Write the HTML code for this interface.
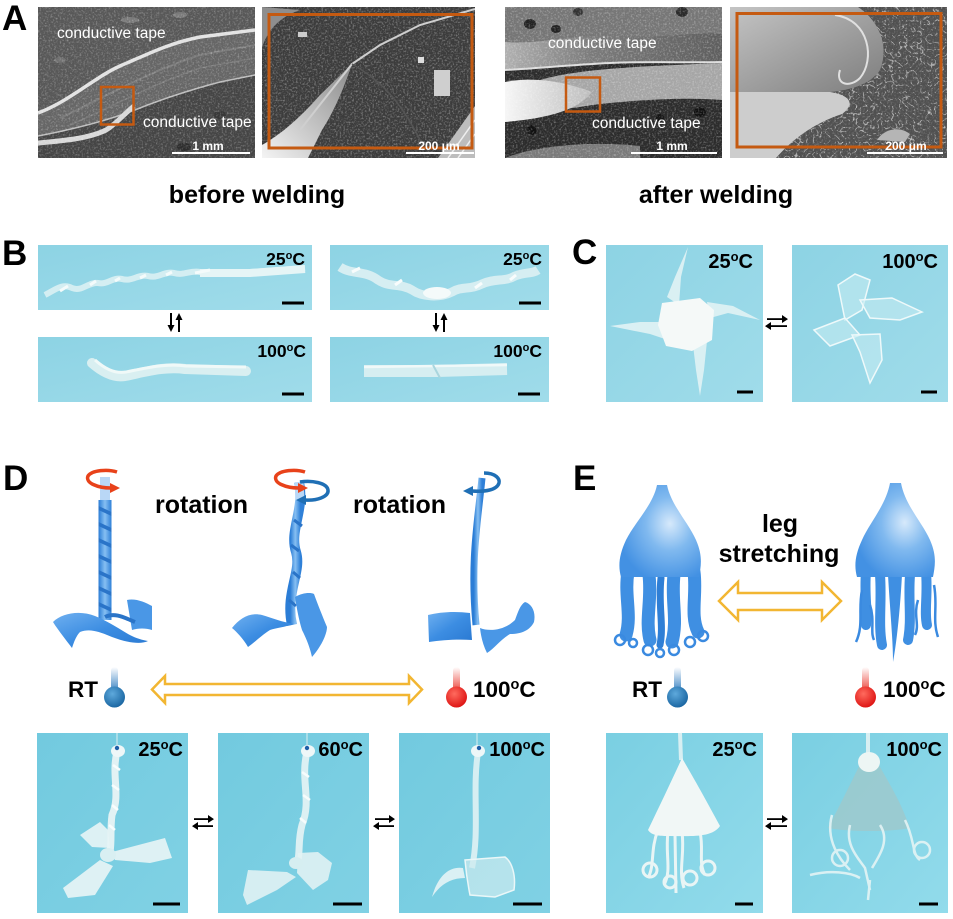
<!DOCTYPE html>
<html><head><meta charset="utf-8">
<style>
html,body{margin:0;padding:0;background:#fff;}
svg{display:block;}
text{font-family:"Liberation Sans",Arial,sans-serif;}
</style></head>
<body>
<svg width="953" height="919" viewBox="0 0 953 919" xmlns="http://www.w3.org/2000/svg">
<defs>
<clipPath id="c1"><rect x="38" y="7" width="217" height="151"/></clipPath>
<clipPath id="c2"><rect x="262" y="7" width="213" height="151"/></clipPath>
<clipPath id="c3"><rect x="505" y="7" width="217" height="151"/></clipPath>
<clipPath id="c4"><rect x="730" y="7" width="217" height="151"/></clipPath>
<filter id="nz" x="0" y="0" width="1" height="1"><feTurbulence type="fractalNoise" baseFrequency="0.55" numOctaves="2" seed="4"/><feColorMatrix type="matrix" values="0 0 0 0 1 0 0 0 0 1 0 0 0 0 1 1.8 0 0 0 -0.85"/></filter>
<filter id="net" x="0" y="0" width="1" height="1"><feTurbulence type="turbulence" baseFrequency="0.14" numOctaves="2" seed="7"/><feColorMatrix type="matrix" values="0 0 0 0 1 0 0 0 0 1 0 0 0 0 1 -8 0 0 0 1.0"/></filter>
<linearGradient id="gw" x1="0" y1="1" x2="1" y2="0"><stop offset="0" stop-color="#f4f4f4"/><stop offset="1" stop-color="#8a8a8a"/></linearGradient>
<linearGradient id="gTape" x1="0" y1="0" x2="1" y2="0"><stop offset="0" stop-color="#b0b0b0"/><stop offset="0.4" stop-color="#7a7a7a"/><stop offset="1" stop-color="#5e5e5e"/></linearGradient>
<linearGradient id="gLens" x1="0" y1="0" x2="1" y2="0"><stop offset="0" stop-color="#f6f6f6"/><stop offset="1" stop-color="#bdbdbd"/></linearGradient>
<linearGradient id="gSmooth" x1="0" y1="0" x2="1" y2="1"><stop offset="0" stop-color="#c4c4c4"/><stop offset="1" stop-color="#7d7d7d"/></linearGradient>
<linearGradient id="pB" x1="0" y1="0" x2="1" y2="1"><stop offset="0" stop-color="#8dd3e4"/><stop offset="1" stop-color="#a0dcea"/></linearGradient>
<linearGradient id="pD" x1="0" y1="0" x2="1" y2="1"><stop offset="0" stop-color="#72cadf"/><stop offset="1" stop-color="#80d1e4"/></linearGradient>
<linearGradient id="pE" x1="0" y1="0" x2="1" y2="1"><stop offset="0" stop-color="#7acfe2"/><stop offset="1" stop-color="#92dbeb"/></linearGradient>
<linearGradient id="hb" x1="0" y1="0" x2="1" y2="0"><stop offset="0" stop-color="#2b7dd6"/><stop offset="0.5" stop-color="#86bff2"/><stop offset="1" stop-color="#2f80d8"/></linearGradient>
<linearGradient id="hb2" x1="0" y1="0" x2="1" y2="1"><stop offset="0" stop-color="#6fb0f0"/><stop offset="0.5" stop-color="#3c8de2"/><stop offset="1" stop-color="#2a79d2"/></linearGradient>
<radialGradient id="jb" cx="0.62" cy="0.42" r="0.65"><stop offset="0" stop-color="#d6e9fb"/><stop offset="0.45" stop-color="#80b9ef"/><stop offset="1" stop-color="#4391e3"/></radialGradient>
<linearGradient id="tsb" x1="0" y1="0" x2="0" y2="1"><stop offset="0" stop-color="#ffffff"/><stop offset="1" stop-color="#3f86c4"/></linearGradient>
<linearGradient id="tsr" x1="0" y1="0" x2="0" y2="1"><stop offset="0" stop-color="#ffffff"/><stop offset="1" stop-color="#ec4a40"/></linearGradient>
<radialGradient id="tbb" cx="0.4" cy="0.35" r="0.7"><stop offset="0" stop-color="#5ea9dc"/><stop offset="1" stop-color="#17639f"/></radialGradient>
<radialGradient id="tbr" cx="0.4" cy="0.35" r="0.7"><stop offset="0" stop-color="#ff6b5e"/><stop offset="1" stop-color="#dc1010"/></radialGradient>
</defs>

<!-- ============ A ============ -->
<text x="2" y="30" font-size="35" font-weight="bold">A</text>

<!-- SEM1 -->
<g clip-path="url(#c1)">
<rect x="38" y="7" width="217" height="151" fill="#454545"/>
<path d="M38,7 H255 V30 L200,36 C170,42 150,52 120,65 C95,76 70,100 38,112 Z" fill="#585858"/>
<path d="M38,112 C70,100 95,76 120,65 C150,52 170,42 200,36 L255,30 V75 L220,82 C190,90 160,100 140,108 C115,118 80,128 38,136 Z" fill="#666"/>
<path d="M60,118 C100,100 140,75 200,55 L255,45" stroke="#7a7a7a" stroke-width="2" fill="none"/>
<path d="M70,125 C110,108 150,85 200,68 L255,58" stroke="#777" stroke-width="1.5" fill="none"/>
<path d="M38,113 C70,101 95,77 120,66 C150,53 170,43 200,37 L255,30" stroke="#e2e2e2" stroke-width="3.5" fill="none"/>
<path d="M38,136 C80,128 115,118 140,108 C160,100 190,90 220,82 L255,75" stroke="#bdbdbd" stroke-width="1.5" fill="none"/>
<path d="M38,143 C60,141 88,139 106,130 C116,124 124,114 134,106" stroke="#d8d8d8" stroke-width="5" fill="none"/>
<ellipse cx="130" cy="20" rx="9" ry="3" fill="#7a7a7a"/>
<ellipse cx="180" cy="15" rx="7" ry="3" fill="#7a7a7a"/>
<ellipse cx="60" cy="60" rx="6" ry="3" fill="#707070"/>
<ellipse cx="184" cy="147" rx="7" ry="4" fill="#2d2d2d"/>
<ellipse cx="220" cy="115" rx="6" ry="4" fill="#383838"/>
<rect x="38" y="7" width="217" height="151" filter="url(#nz)" opacity="0.45"/>
</g>
<rect x="101" y="87" width="32.5" height="37.5" fill="none" stroke="#c55a11" stroke-width="2.5"/>
<text x="57" y="38" font-size="15.5" fill="#fff">conductive tape</text>
<text x="143" y="127" font-size="15.5" fill="#fff">conductive tape</text>
<text x="208" y="150" font-size="12" font-weight="bold" fill="#fff" text-anchor="middle">1 mm</text>
<rect x="172" y="152" width="78" height="2" fill="#fff"/>

<!-- SEM2 -->
<g clip-path="url(#c2)">
<rect x="262" y="7" width="213" height="151" fill="#3c3c3c"/>
<rect x="262" y="7" width="213" height="151" filter="url(#nz)" opacity="0.55"/>
<path d="M262,158 L262,145 C280,135 300,118 320,95 L352,64 C345,85 335,110 322,130 L308,158 Z" fill="url(#gw)"/>
<path d="M300,130 L352,64 L380,45 L420,25 L475,9" stroke="#cfcfcf" stroke-width="2" fill="none"/>
<path d="M352,64 C380,80 400,100 420,140 L425,158" stroke="#555" stroke-width="1.5" fill="none"/>
<path d="M438,158 L475,106 V158 Z" fill="#bdbdbd"/>
<path d="M448,158 L475,120 M458,158 L475,134" stroke="#eee" stroke-width="1.5"/>
<path d="M262,48 C268,28 282,16 300,10 L262,7 Z" fill="#8e8e8e"/>
<rect x="418" y="57" width="6" height="6" fill="#ddd"/>
<rect x="434" y="70" width="16" height="26" fill="#cfcfcf"/>
<rect x="298" y="32" width="9" height="5" fill="#ccc"/>
</g>
<rect x="269" y="14.5" width="203" height="133.5" fill="none" stroke="#c55a11" stroke-width="3"/>
<text x="439" y="150" font-size="12" font-weight="bold" fill="#fff" text-anchor="middle">200 μm</text>
<rect x="406" y="152" width="68" height="2" fill="#fff"/>

<!-- SEM3 -->
<g clip-path="url(#c3)">
<rect x="505" y="7" width="217" height="151" fill="#2c2c2c"/>
<path d="M505,7 H722 V40 C690,45 600,44 560,50 L505,55 Z" fill="#767676"/>
<ellipse cx="530" cy="24" rx="6" ry="5" fill="#222"/>
<ellipse cx="556" cy="29" rx="5" ry="4" fill="#222"/>
<ellipse cx="578" cy="12" rx="5" ry="4" fill="#333"/>
<ellipse cx="682" cy="12" rx="6" ry="5" fill="#2a2a2a"/>
<path d="M505,42 C540,45 580,33 620,36 C660,39 700,31 722,34 V62 C690,63 650,61 610,63 C570,65 540,68 505,70 Z" fill="url(#gTape)"/>
<path d="M505,70 C540,68 570,65 610,63 C650,61 690,63 722,62" stroke="#ddd" stroke-width="2" fill="none"/>
<path d="M540,80 C580,68 650,66 722,63 V100 C680,97 640,100 600,104 C570,108 550,112 540,112 Z" fill="#a6a6a6"/>
<path d="M505,82 C530,77 560,80 592,92 C578,110 550,118 505,122 Z" fill="url(#gLens)"/>
<path d="M505,158 C530,148 580,140 640,146 L640,158 Z" fill="#7a7a7a"/>
<ellipse cx="532" cy="130" rx="5" ry="5" fill="#111"/>
<ellipse cx="700" cy="112" rx="6" ry="5" fill="#111"/>
<ellipse cx="660" cy="118" rx="4" ry="4" fill="#151515"/>
<rect x="505" y="7" width="217" height="151" filter="url(#nz)" opacity="0.5"/>
</g>
<rect x="566" y="77.5" width="34" height="34" fill="none" stroke="#c55a11" stroke-width="2.5"/>
<text x="548" y="48" font-size="15.5" fill="#fff">conductive tape</text>
<text x="592" y="128" font-size="15.5" fill="#fff">conductive tape</text>
<text x="672" y="150" font-size="12" font-weight="bold" fill="#fff" text-anchor="middle">1 mm</text>
<rect x="631" y="152" width="86" height="2" fill="#fff"/>

<!-- SEM4 -->
<g clip-path="url(#c4)">
<rect x="730" y="7" width="217" height="151" fill="#505050"/>
<rect x="730" y="7" width="217" height="151" filter="url(#net)" opacity="0.75"/>
<rect x="730" y="7" width="217" height="151" filter="url(#nz)" opacity="0.3"/>
<path d="M730,7 H858 C878,20 890,45 880,70 C870,85 850,90 830,92 L730,92 Z" fill="url(#gSmooth)"/>
<path d="M835,15 C870,20 875,60 860,78 C850,88 835,85 840,70" stroke="#e0e0e0" stroke-width="2" fill="none"/>
<path d="M730,92 L830,92 C850,95 856,104 842,114 C812,124 792,140 776,158 L730,158 Z" fill="#cdcdcd"/>
<path d="M877,140 C885,128 900,126 910,134 L905,142 Z" fill="#b5b5b5"/>
</g>
<rect x="737" y="13.5" width="204" height="133.5" fill="none" stroke="#c55a11" stroke-width="3"/>
<text x="906" y="150" font-size="12" font-weight="bold" fill="#fff" text-anchor="middle">200 μm</text>
<rect x="867" y="152" width="76" height="2" fill="#fff"/>

<text x="257" y="203" font-size="25" font-weight="bold" text-anchor="middle">before welding</text>
<text x="716" y="203" font-size="25" font-weight="bold" text-anchor="middle">after welding</text>

<!-- ============ B ============ -->
<text x="2" y="265" font-size="35" font-weight="bold">B</text>
<rect x="38" y="245" width="274" height="65" fill="url(#pB)"/>
<rect x="330" y="245" width="219" height="65" fill="url(#pB)"/>
<rect x="38" y="337" width="274" height="65" fill="url(#pB)"/>
<rect x="330" y="337" width="219" height="65" fill="url(#pB)"/>

<path d="M45,295 C55,290 62,283 72,288 C82,292 88,282 98,283 C108,285 112,277 122,279 C132,282 138,274 148,276 C158,279 164,271 174,273 C184,276 190,270 200,272 L250,272 L305,268" stroke="#d4eef2" stroke-width="6" fill="none" stroke-linejoin="round"/>
<path d="M200,273 L250,273 L305,269" stroke="#e6f5f6" stroke-width="8" fill="none"/>
<path d="M60,291 L68,286 M90,285 L96,281 M115,281 L120,278 M140,278 L146,275 M166,275 L172,272 M195,273 L210,270" stroke="#f4fbfb" stroke-width="3"/>
<path d="M92,363 C100,370 112,378 125,376 C145,372 165,366 185,369 L246,371" stroke="#d9eff1" stroke-width="10" fill="none" stroke-linecap="round"/>
<path d="M95,360 C104,368 114,374 126,372 C146,368 166,363 186,366 L246,367" stroke="#f0f9f8" stroke-width="3" fill="none"/>
<path d="M340,267 C352,275 365,270 378,280 C390,288 400,283 412,290 C422,297 440,298 452,292 C462,286 470,290 482,284 C495,278 505,282 515,276 C525,272 532,274 538,270" stroke="#d6eef2" stroke-width="9" fill="none" stroke-linejoin="round"/>
<ellipse cx="437" cy="293" rx="14" ry="6" fill="#f4fafa"/>
<path d="M352,272 L360,268 M395,285 L402,280 M475,288 L482,283 M510,280 L516,275" stroke="#f8fcfc" stroke-width="3"/>
<path d="M364,371 L437,371 L507,369" stroke="#d6eef1" stroke-width="12" fill="none"/>
<path d="M364,367 L507,365" stroke="#f0f9f9" stroke-width="2.5"/>
<path d="M433,365 L440,378" stroke="#a9d6de" stroke-width="2"/>

<text x="305" y="265" font-size="17.5" font-weight="bold" text-anchor="end">25<tspan font-size="11" dy="-6">o</tspan><tspan dy="6">C</tspan></text>
<text x="542" y="265" font-size="17.5" font-weight="bold" text-anchor="end">25<tspan font-size="11" dy="-6">o</tspan><tspan dy="6">C</tspan></text>
<text x="306" y="357" font-size="17.5" font-weight="bold" text-anchor="end">100<tspan font-size="11" dy="-6">o</tspan><tspan dy="6">C</tspan></text>
<text x="542" y="357" font-size="17.5" font-weight="bold" text-anchor="end">100<tspan font-size="11" dy="-6">o</tspan><tspan dy="6">C</tspan></text>
<rect x="282" y="301.5" width="22" height="3" fill="#000"/>
<rect x="519" y="301.5" width="22" height="3" fill="#000"/>
<rect x="282" y="392.5" width="22" height="3" fill="#000"/>
<rect x="518" y="392.5" width="22" height="3" fill="#000"/>
<g fill="#000" stroke="#000">
<line x1="171" y1="313" x2="171" y2="326" stroke-width="2"/><polygon points="167.5,325 174.5,325 171,332" stroke="none"/>
<line x1="179" y1="320" x2="179" y2="332" stroke-width="2"/><polygon points="175.5,320 182.5,320 179,313" stroke="none"/>
<line x1="436" y1="313" x2="436" y2="326" stroke-width="2"/><polygon points="432.5,325 439.5,325 436,332" stroke="none"/>
<line x1="444" y1="320" x2="444" y2="332" stroke-width="2"/><polygon points="440.5,320 447.5,320 444,313" stroke="none"/>
</g>

<!-- ============ C ============ -->
<text x="572" y="264" font-size="35" font-weight="bold">C</text>
<rect x="606" y="245" width="157" height="157" fill="url(#pB)"/>
<rect x="792" y="245" width="156" height="157" fill="url(#pB)"/>
<g fill="#e2f3f5" opacity="0.9">
<polygon points="667,297 675,277 688,247 681,277 679,305"/>
<polygon points="610,326 640,322 662,322 668,340 650,334"/>
<polygon points="693,345 707,341 704,370 700,396 696,370"/>
<polygon points="707,302 733,306 760,320 728,313 710,318"/>
</g>
<polygon points="662,303 700,298 714,310 712,340 692,351 666,346 658,325" fill="#f5f9f8"/>
<g fill="#c5ebf1" fill-opacity="0.6" stroke="#eef9fa" stroke-width="1.5">
<polygon points="838,285 855,274 870,280 862,310 845,320"/>
<polygon points="860,300 892,298 922,312 900,320 870,318"/>
<polygon points="814,330 845,318 860,335 830,346"/>
<polygon points="852,335 880,334 882,360 870,383 860,352"/>
</g>
<text x="753" y="268" font-size="20" font-weight="bold" text-anchor="end">25<tspan font-size="13" dy="-7">o</tspan><tspan dy="7">C</tspan></text>
<text x="938" y="268" font-size="20" font-weight="bold" text-anchor="end">100<tspan font-size="13" dy="-7">o</tspan><tspan dy="7">C</tspan></text>
<rect x="737" y="390.5" width="16" height="3" fill="#000"/>
<rect x="921" y="390.5" width="16" height="3" fill="#000"/>
<g fill="#000">
<rect x="767" y="318.2" width="17" height="1.8"/><polygon points="782,315 788,319.1 782,323"/>
<rect x="770" y="325.2" width="17" height="1.8"/><polygon points="771,322 765,326.1 771,330"/>
</g>

<!-- ============ D ============ -->
<text x="3" y="490" font-size="35" font-weight="bold">D</text>
<text x="155" y="513" font-size="25" font-weight="bold">rotation</text>
<text x="353" y="513" font-size="25" font-weight="bold">rotation</text>

<rect x="100" y="477" width="10" height="25" fill="#b9d7f6"/>
<rect x="98.5" y="500" width="13" height="120" fill="url(#hb)"/>
<g fill="#2a74c8">
<polygon points="98.5,506 111.5,512 111.5,516 98.5,510"/>
<polygon points="98.5,522 111.5,528 111.5,532 98.5,526"/>
<polygon points="98.5,538 111.5,544 111.5,548 98.5,542"/>
<polygon points="98.5,554 111.5,560 111.5,564 98.5,558"/>
<polygon points="98.5,570 111.5,576 111.5,580 98.5,574"/>
<polygon points="98.5,586 111.5,592 111.5,596 98.5,590"/>
<polygon points="98.5,602 111.5,608 111.5,612 98.5,606"/>
</g>
<path d="M53,622 C62,613 80,610 95,616 C105,620 115,626 128,634 C135,638 142,640 148,641 C140,645 125,642 112,637 C100,632 90,628 80,632 C76,636 74,642 72,648 C66,640 58,630 53,622 Z" fill="url(#hb2)"/>
<path d="M127,600 C135,598 145,602 152,606 L152,630 C146,628 138,628 132,630 Z" fill="#4a97e6"/>
<path d="M105,617 C115,612 125,618 135,622" stroke="#2a74c8" stroke-width="4" fill="none"/>
<path d="M117,472 C108,469 92,470 88,476 C85,483 98,488 111,488" stroke="#e8421a" stroke-width="3.5" fill="none"/>
<polygon points="110,483 120,488 110,493" fill="#e8421a"/>

<path d="M299,482 C305,510 289,530 296,552 C302,572 285,592 292,625" stroke="url(#hb)" stroke-width="10" fill="none"/>
<path d="M299,482 L300,500" stroke="#b9d7f6" stroke-width="9"/>
<path d="M294,520 L302,526 M291,545 L299,551 M293,572 L300,578 M289,600 L296,606" stroke="#2a74c8" stroke-width="3"/>
<path d="M232,628 C240,618 250,612 262,615 C272,618 282,622 294,624 C285,627 276,628 270,630 C262,635 255,642 248,647 C244,640 238,633 232,628 Z" fill="url(#hb2)"/>
<path d="M295,597 C302,593 310,592 314,594 C318,605 322,615 327,627 C327,635 320,648 312,657 C310,648 307,640 302,630 C299,620 297,610 295,597 Z" fill="#4a97e6"/>
<path d="M305,472 C296,469 280,470 276,476 C273,483 286,488 299,488" stroke="#e8421a" stroke-width="3.5" fill="none"/>
<polygon points="298,483 308,488 298,493" fill="#e8421a"/>
<path d="M300,482 C312,480 327,483 328,490 C329,497 316,501 305,500" stroke="#1f6fb5" stroke-width="3.5" fill="none"/>
<polygon points="306,495 296,500 306,505" fill="#1f6fb5"/>

<path d="M482,478 C478,520 470,560 476,625" stroke="url(#hb)" stroke-width="7" fill="none"/>
<path d="M428,615 C440,612 455,611 470,613 L472,640 C458,639 442,640 429,642 Z" fill="url(#hb2)"/>
<path d="M480,628 C490,632 505,630 515,620 C518,612 520,605 525,602 C532,604 536,612 534,622 C530,630 522,634 510,634 C500,640 495,648 487,653 C483,645 481,637 480,628 Z" fill="#4a97e6"/>
<path d="M484,473 C496,473 500,479 499,483 C497,490 485,492 472,491" stroke="#1f6fb5" stroke-width="3.5" fill="none"/>
<polygon points="473,486 463,491 473,496" fill="#1f6fb5"/>

<text x="68" y="697" font-size="22.5" font-weight="bold">RT</text>
<rect x="111" y="667" width="7" height="24" rx="3.5" fill="url(#tsb)"/>
<circle cx="114.5" cy="697" r="10.5" fill="url(#tbb)"/>
<rect x="453" y="667" width="7" height="24" rx="3.5" fill="url(#tsr)"/>
<circle cx="456.5" cy="697" r="10.5" fill="url(#tbr)"/>
<text x="473" y="697" font-size="22.5" font-weight="bold">100<tspan font-size="14.5" dy="-8">o</tspan><tspan dy="8">C</tspan></text>
<polygon points="152,689.5 165,676 165,684 409,684 409,676 422,689.5 409,703 409,695 165,695 165,703" fill="#fff" stroke="#f2b632" stroke-width="2.5" stroke-linejoin="miter"/>

<rect x="37" y="733" width="151" height="180" fill="url(#pD)"/>
<rect x="218" y="733" width="151" height="180" fill="url(#pD)"/>
<rect x="399" y="733" width="151" height="180" fill="url(#pD)"/>
<line x1="117" y1="733" x2="117" y2="746" stroke="#a9dde8" stroke-width="2"/>
<path d="M117,752 C111,775 121,795 112,815 C110,830 112,840 110,852" stroke="#e2f2f4" stroke-width="7" fill="none"/>
<path d="M113,765 L120,770 M112,785 L119,790 M112,805 L118,810 M109,825 L115,830" stroke="#f8fdfd" stroke-width="2.5"/>
<ellipse cx="118" cy="751" rx="7" ry="6" fill="#eef7f8"/>
<circle cx="117" cy="748" r="2.2" fill="#1e5fa8"/>
<g fill="#e6f4f5" fill-opacity="0.92">
<polygon points="80,835 100,822 108,830 110,848 92,847"/>
<polygon points="112,852 165,838 172,858 150,863 115,860"/>
<polygon points="100,860 113,866 95,895 68,898 63,888"/>
</g>
<ellipse cx="108" cy="855" rx="8" ry="7" fill="#d9eff2"/>
<line x1="307" y1="733" x2="307" y2="746" stroke="#a9dde8" stroke-width="2"/>
<path d="M307,752 C300,780 312,800 302,825 C298,840 300,850 298,860" stroke="#dcf0f3" stroke-width="7" fill="none"/>
<path d="M302,772 L309,777 M303,795 L310,800 M300,818 L306,823" stroke="#f6fcfc" stroke-width="2.5"/>
<ellipse cx="308" cy="751" rx="7" ry="6" fill="#eef7f8"/>
<circle cx="307" cy="748" r="2.2" fill="#1e5fa8"/>
<g fill="#e2f2f4" fill-opacity="0.88">
<polygon points="248,870 287,872 296,877 277,890 247,905 243,895"/>
<polygon points="298,853 318,852 332,863 328,880 313,890 297,873"/>
</g>
<ellipse cx="296" cy="863" rx="7" ry="6" fill="#d6eef1"/>
<line x1="477" y1="733" x2="477" y2="746" stroke="#a9dde8" stroke-width="2"/>
<path d="M478,752 C472,790 480,830 472,868" stroke="#d6eef2" stroke-width="6" fill="none"/>
<ellipse cx="478" cy="751" rx="7" ry="6" fill="#eef7f8"/>
<circle cx="479" cy="748" r="2.2" fill="#1e5fa8"/>
<path d="M463,868 C450,866 438,875 432,897 C440,885 450,878 465,878 Z" fill="#e4f4f6" fill-opacity="0.9"/>
<path d="M465,860 L505,857 C512,862 516,875 514,890 L495,897 L470,895 C468,885 466,872 465,860 Z" fill="#cdebf0" fill-opacity="0.7" stroke="#eaf7f8" stroke-width="1.5"/>
<text x="183" y="756" font-size="20" font-weight="bold" text-anchor="end">25<tspan font-size="13" dy="-7">o</tspan><tspan dy="7">C</tspan></text>
<text x="363" y="756" font-size="20" font-weight="bold" text-anchor="end">60<tspan font-size="13" dy="-7">o</tspan><tspan dy="7">C</tspan></text>
<text x="545" y="756" font-size="20" font-weight="bold" text-anchor="end">100<tspan font-size="13" dy="-7">o</tspan><tspan dy="7">C</tspan></text>
<rect x="153" y="902.5" width="27" height="3" fill="#000"/>
<rect x="333" y="902.5" width="29" height="3" fill="#000"/>
<rect x="513" y="902.5" width="29" height="3" fill="#000"/>
<g fill="#000">
<rect x="194" y="818.2" width="16" height="1.8"/><polygon points="208,815 214,819.1 208,823"/>
<rect x="197" y="825.2" width="16" height="1.8"/><polygon points="198,822 192,826.1 198,830"/>
<rect x="375" y="818.2" width="16" height="1.8"/><polygon points="389,815 395,819.1 389,823"/>
<rect x="378" y="825.2" width="16" height="1.8"/><polygon points="379,822 373,826.1 379,830"/>
</g>

<!-- ============ E ============ -->
<text x="573" y="490" font-size="35" font-weight="bold">E</text>
<text x="780" y="532" font-size="25" font-weight="bold" text-anchor="middle">leg</text>
<text x="779" y="562" font-size="25" font-weight="bold" text-anchor="middle">stretching</text>
<polygon points="719,601 738,582 738,593 822,593 822,582 841,601 822,620 822,610 738,610 738,620" fill="#fff" stroke="#f2b632" stroke-width="2.5"/>

<g stroke="#3f8fe2" stroke-width="13" fill="none" stroke-linecap="round">
<path d="M628,572 C624,595 632,615 626,635"/>
<path d="M649,575 C652,600 645,620 650,640"/>
<path d="M674,575 C671,600 678,620 672,642"/>
<path d="M694,572 C697,595 690,615 698,632"/>
</g>
<g stroke="#2f7fd6" stroke-width="7" fill="none" stroke-linecap="round">
<path d="M661,578 C658,605 664,625 660,645"/>
</g>
<path d="M657,485 L667,485 C671,505 688,522 696,540 C703,556 701,566 699,577 L621,577 C618,566 619,555 626,540 C635,522 653,505 657,485 Z" fill="url(#jb)"/>
<g stroke="#3a8ae0" stroke-width="2.5" fill="none">
<circle cx="620" cy="640" r="5"/><circle cx="633" cy="643" r="4"/>
<circle cx="648" cy="650" r="5"/><circle cx="660" cy="653" r="4"/>
<circle cx="674" cy="650" r="5"/><circle cx="690" cy="642" r="5"/>
<circle cx="703" cy="636" r="5"/>
</g>
<g stroke="#3f8fe2" stroke-width="10" fill="none" stroke-linecap="round">
<path d="M866,572 C864,595 868,612 866,625"/>
<path d="M880,575 C882,600 878,625 882,645"/>
<path d="M910,575 C908,600 912,620 908,640"/>
<path d="M926,572 C928,595 924,612 927,625"/>
</g>
<path d="M888,575 C890,610 893,640 893,662 C897,640 900,610 902,575 Z" fill="#3f8fe2"/>
<g stroke="#3a8ae0" stroke-width="2.5" fill="none">
<path d="M862,590 C858,610 864,625 856,642"/>
<path d="M934,585 C938,605 932,620 938,637"/>
<path d="M870,605 C875,620 870,632 874,640"/>
<path d="M918,600 C913,615 920,625 915,635"/>
</g>
<path d="M890,483 L901,483 C905,505 922,522 930,540 C937,556 935,566 933,577 L857,577 C854,566 855,555 862,540 C870,522 886,505 890,483 Z" fill="url(#jb)"/>

<text x="632" y="697" font-size="22.5" font-weight="bold">RT</text>
<rect x="674" y="667" width="7" height="24" rx="3.5" fill="url(#tsb)"/>
<circle cx="677.5" cy="697" r="10.5" fill="url(#tbb)"/>
<rect x="862" y="667" width="7" height="24" rx="3.5" fill="url(#tsr)"/>
<circle cx="865.5" cy="697" r="10.5" fill="url(#tbr)"/>
<text x="883" y="697" font-size="22.5" font-weight="bold">100<tspan font-size="14.5" dy="-8">o</tspan><tspan dy="8">C</tspan></text>

<rect x="606" y="733" width="157" height="180" fill="url(#pE)"/>
<rect x="792" y="733" width="156" height="180" fill="url(#pE)"/>
<line x1="680" y1="733" x2="681" y2="760" stroke="#d8eff2" stroke-width="4"/>
<g stroke="#e9f5f5" stroke-width="3" fill="none">
<path d="M658,830 C650,850 655,865 648,878"/><circle cx="650" cy="870" r="7"/>
<path d="M668,832 C665,855 672,870 664,885"/><circle cx="670" cy="882" r="6"/>
<path d="M682,832 C685,855 678,870 684,888"/><circle cx="690" cy="878" r="7"/>
<path d="M700,832 C704,850 698,862 705,875"/><circle cx="708" cy="868" r="7"/>
<path d="M675,835 L676,893"/>
</g>
<path d="M682,758 C692,775 706,800 720,826 C712,838 690,836 670,836 C660,836 652,836 648,830 C660,805 672,780 682,758 Z" fill="#f1f7f6"/>
<line x1="868" y1="733" x2="868" y2="755" stroke="#d8eff2" stroke-width="4"/>
<path d="M862,760 L876,760 C890,785 900,800 910,828 C890,832 850,832 828,828 C840,805 850,785 862,760 Z" fill="#9ec9cc" fill-opacity="0.85"/>
<ellipse cx="869" cy="762" rx="11" ry="10" fill="#edf6f4"/>
<g stroke="#e4f4f5" stroke-width="2.5" fill="none" opacity="0.9">
<path d="M832,815 C825,840 840,860 850,870"/><circle cx="840" cy="858" r="8"/>
<path d="M850,825 C845,845 858,858 865,868 L870,890"/>
<path d="M880,825 C890,840 880,855 872,868"/>
<path d="M905,820 C915,840 912,855 920,860"/><circle cx="922" cy="850" r="8"/>
<path d="M870,880 L868,900"/>
<path d="M810,875 C830,870 850,872 860,878"/>
</g>
<text x="757" y="756" font-size="20" font-weight="bold" text-anchor="end">25<tspan font-size="13" dy="-7">o</tspan><tspan dy="7">C</tspan></text>
<text x="942" y="756" font-size="20" font-weight="bold" text-anchor="end">100<tspan font-size="13" dy="-7">o</tspan><tspan dy="7">C</tspan></text>
<rect x="735" y="902.5" width="18" height="3" fill="#000"/>
<rect x="919" y="902.5" width="19" height="3" fill="#000"/>
<g fill="#000">
<rect x="767" y="818.2" width="17" height="1.8"/><polygon points="782,815 788,819.1 782,823"/>
<rect x="770" y="825.2" width="17" height="1.8"/><polygon points="771,822 765,826.1 771,830"/>
</g>
</svg>
</body></html>
